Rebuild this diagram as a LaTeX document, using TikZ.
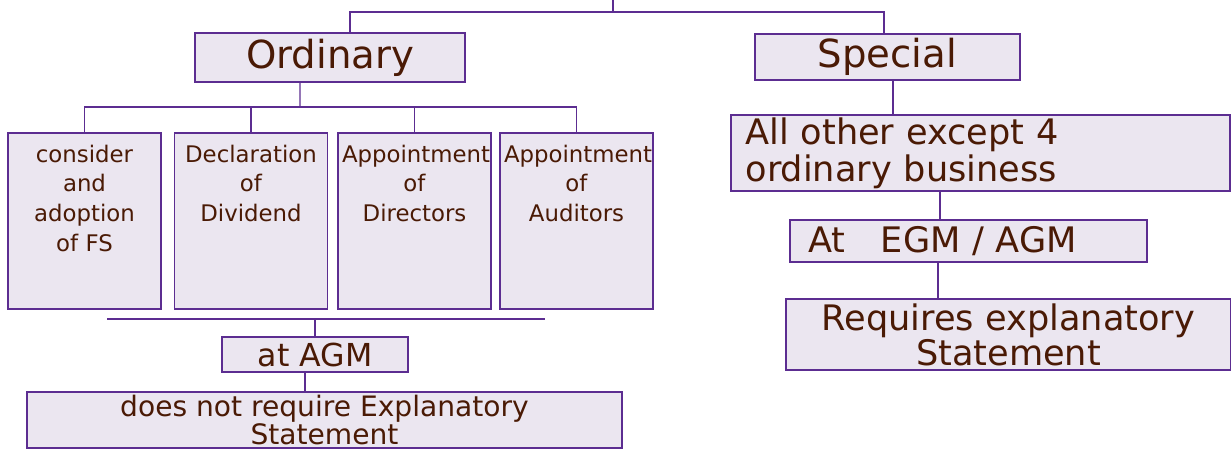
\documentclass[tikz,border=0pt]{standalone}
\usepackage{fontspec}
\setmainfont{DejaVu Sans}
\usetikzlibrary{positioning}

\definecolor{boxfill}{HTML}{EBE6F0}
\definecolor{boxline}{HTML}{5C2D91}
\definecolor{inkbrown}{HTML}{4A1A05}

\tikzset{
  box/.style={draw=boxline,fill=boxfill,line width=0.8pt,text=inkbrown,inner sep=1pt,align=center},
  link/.style={draw=boxline,line width=0.8pt},
  coltext/.style={text=inkbrown,font=\fontsize{13}{17}\selectfont,text width=2.9cm,align=center,inner sep=0pt}
}

\begin{document}
\begin{tikzpicture}[x=0.02cm,y=-0.02cm]
\useasboundingbox (0,0) rectangle (1231,450);

% first level
\node[box,minimum width=5.4cm,minimum height=0.98cm,font=\fontsize{22}{24}\selectfont] (ord) at (330,57.5) {Ordinary};
\node[box,minimum width=5.3cm,minimum height=0.92cm,font=\fontsize{22}{24}\selectfont] (spec) at (887.5,57) {Special};
\coordinate (root) at (613,0);
\coordinate (split) at (613,12);
\draw[link] (root) -- (split);
\draw[link] ([xshift=0.4cm]ord.north) |- (split) -| ([xshift=-0.07cm]spec.north);

% ordinary business
\foreach \n/\x in {1/84.5,2/251,3/414.5,4/576.5}
  \node[box,minimum width=3.06cm,minimum height=3.52cm] (f\n) at (\x,221) {};
\node[coltext,below=0.24cm of f1.north] {consider\\and\\adoption\\of FS};
\node[coltext,below=0.24cm of f2.north] {Declaration\\of\\Dividend};
\node[coltext,below=0.24cm of f3.north] {Appointment\\of\\Directors};
\node[coltext,below=0.24cm of f4.north] {Appointment\\of\\Auditors};
\coordinate (obus) at (300,107);
\draw[link] ([xshift=-0.6cm]ord.south) -- (obus);
\draw[link] (f1.north) |- (obus) -| (f4.north);
\foreach \n in {2,3}
  \draw[link] (f\n.north) -- (f\n.north |- obus);

% ordinary meeting
\coordinate (bl) at (107,319);
\coordinate (br) at (545,319);
\draw[link] (bl) -- (br);
\node[box,minimum width=3.72cm,minimum height=0.7cm,font=\fontsize{18}{20}\selectfont] (agm) at (315,354.5) {at AGM};
\draw[link] (agm.north) -- (agm.north |- bl);
\node[box,minimum width=11.9cm,minimum height=1.12cm,font=\fontsize{16}{15}\selectfont] (dnr) at (324.5,420) {does not require Explanatory\\Statement};
\draw[link] ([xshift=-0.2cm]agm.south) -- ([xshift=-0.2cm]agm.south |- dnr.north);

% special business
\node[box,minimum width=9.98cm,minimum height=1.52cm,font=\fontsize{20}{21}\selectfont,align=left,inner xsep=0.28cm,text width=9.4cm] (other) at (980.5,153) {All other except 4\\ordinary business};
\node[box,minimum width=7.14cm,minimum height=0.84cm,font=\fontsize{20}{22}\selectfont,align=left,inner xsep=0.36cm,text width=6.4cm] (egm) at (968.5,241) {At\quad EGM / AGM};
\node[box,minimum width=8.9cm,minimum height=1.42cm,font=\fontsize{20}{20}\selectfont] (req) at (1008.5,334.5) {Requires explanatory\\Statement};
\draw[link] ([xshift=0.11cm]spec.south) -- ([xshift=0.11cm]spec.south |- other.north);
\draw[link] ([xshift=-0.57cm]egm.north) -- ([xshift=-0.57cm]egm.north |- other.south);
\draw[link] ([xshift=-0.61cm]egm.south) -- ([xshift=-0.61cm]egm.south |- req.north);
\end{tikzpicture}
\end{document}
